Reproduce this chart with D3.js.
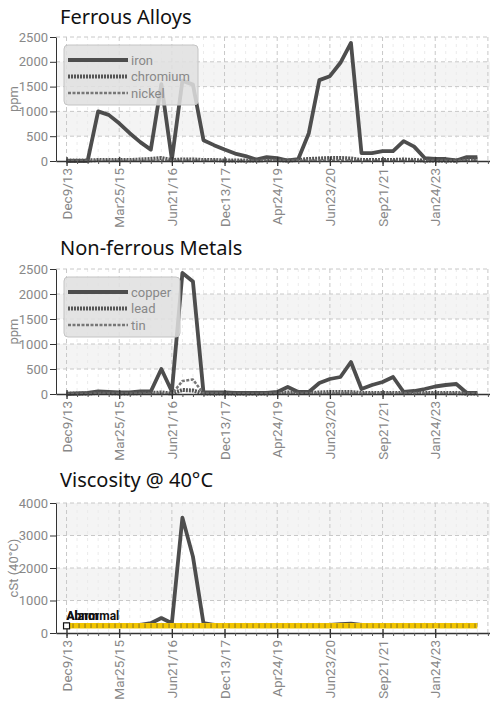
<!DOCTYPE html>
<html>
<head>
<meta charset="utf-8">
<script src="https://cdn.jsdelivr.net/npm/d3@7"></script>
<style>
body { margin: 0; background: #fff; }
svg text { font-family: "Roboto", sans-serif; }
.title { font-family: "Noto Sans", "DejaVu Sans", sans-serif !important; font-size: 20px; fill: #111; }
</style>
</head>
<body>
<svg width="490" height="702"></svg>
<script>
// x tick labels, one every 5 samples
const xLabels = ["Dec9/13", "Mar25/15", "Jun21/16", "Dec13/17", "Apr24/19", "Jun23/20", "Sep21/21", "Jan24/23"];
const labelEvery = 5;

// Ferrous Alloys (ppm), 40 samples
const iron = [0, 0, 0, 1000, 930, 760, 560, 380, 230, 1550,
              30, 1620, 1540, 420, 320, 230, 150, 100, 30, 80,
              60, 10, 40, 560, 1630, 1710, 1980, 2380, 160, 160,
              200, 200, 400, 290, 60, 40, 40, 10, 80, 80];
const chromium = [10, 10, 10, 20, 20, 20, 20, 30, 40, 60,
                  20, 30, 30, 20, 20, 10, 10, 10, 10, 20,
                  20, 10, 20, 40, 50, 60, 60, 50, 20, 20,
                  20, 20, 30, 20, 10, 10, 10, 10, 40, 40];
const nickel = [0, 0, 0, 5, 5, 5, 5, 5, 5, 10,
                0, 10, 10, 5, 5, 5, 0, 0, 0, 5,
                5, 0, 5, 10, 10, 10, 10, 10, 5, 5,
                5, 5, 5, 5, 0, 0, 0, 0, 10, 10];

// Non-ferrous Metals (ppm)
const copper = [0, 10, 20, 50, 40, 30, 30, 50, 50, 500,
                50, 2420, 2250, 30, 30, 30, 20, 20, 20, 20,
                40, 140, 40, 40, 220, 300, 340, 640, 100, 180,
                240, 340, 40, 60, 100, 150, 180, 200, 20, 20];
const lead = [10, 10, 10, 20, 20, 10, 10, 20, 20, 30,
              10, 80, 70, 10, 10, 10, 10, 10, 10, 10,
              20, 30, 20, 20, 30, 40, 40, 40, 20, 20,
              20, 20, 20, 20, 20, 20, 20, 20, 10, 10];
const tin = [0, 0, 0, 5, 5, 5, 5, 5, 5, 10,
             0, 260, 290, 5, 5, 5, 0, 0, 0, 5,
             5, 10, 5, 10, 10, 10, 20, 20, 10, 10,
             10, 10, 10, 10, 10, 10, 10, 10, 5, 5];

// Viscosity @ 40°C (cSt)
const viscosity = [190, 240, 250, 250, 250, 250, 250, 250, 300, 460,
                   300, 3550, 2350, 300, 250, 250, 250, 250, 250, 250,
                   250, 250, 250, 250, 250, 250, 270, 290, 250, 250,
                   250, 250, 250, 250, 250, 250, 250, 250, 250, 250];
const abnormalLimit = 220;

const svg = d3.select("svg");
const x = d3.scaleLinear().domain([-1, 40.2]).range([56, 490]);
const majorIdx = d3.range(0, 41, labelEvery);

const styles = {
    solid:  {width: 3.8, dash: null, color: "#4d4d4d"},
    dotted: {width: 4, dash: "2,1", color: "#555"},
    dashed: {width: 2.5, dash: "3,1.5", color: "#777"}
};

function drawChart(c) {
    const y = d3.scaleLinear().domain([0, c.yMax]).range([c.y0, c.yTop]);
    const g = svg.append("g");
    const ticks = d3.range(0, c.yMax + 1, c.yStep);

    // alternating bands
    g.selectAll("rect.band")
        .data(ticks.slice(0, -1).filter((d, i) => i % 2 == 1))
        .enter().append("rect")
            .attr("x", x(-1)).attr("width", x(40.2) - x(-1))
            .attr("y", d => y(d + c.yStep)).attr("height", d => y(d) - y(d + c.yStep))
            .style("fill", "#f4f4f4");

    // minor vertical grid
    g.selectAll("line.minor")
        .data(d3.range(0, 41).filter(i => i % labelEvery != 0))
        .enter().append("line")
            .attr("x1", d => x(d)).attr("x2", d => x(d))
            .attr("y1", c.yTop).attr("y2", c.y0)
            .style("stroke", "#ebebeb").style("stroke-dasharray", "3,4");

    // major grid
    g.selectAll("line.vmajor")
        .data(majorIdx)
        .enter().append("line")
            .attr("x1", d => x(d)).attr("x2", d => x(d))
            .attr("y1", c.yTop).attr("y2", c.y0)
            .style("stroke", "#c8c8c8").style("stroke-dasharray", "4,3");
    g.selectAll("line.hmajor")
        .data(ticks.slice(1))
        .enter().append("line")
            .attr("x1", x(-1)).attr("x2", x(40.2))
            .attr("y1", d => y(d)).attr("y2", d => y(d))
            .style("stroke", "#c8c8c8").style("stroke-dasharray", "4,3");

    // title + y label
    svg.append("text").attr("class", "title")
        .attr("x", 60).attr("y", c.titleY).text(c.title);
    svg.append("text")
        .attr("transform", "translate(13," + ((c.yTop + c.y0) / 2) + ")rotate(-90)")
        .attr("dy", "0.35em")
        .style("text-anchor", "middle").style("font-size", "13px").style("fill", "#888")
        .text(c.yLabel);

    // series
    const line = d3.line().x((d, i) => x(i)).y(d => y(d));
    c.series.forEach(s => {
        const st = styles[s.style];
        g.append("path")
            .datum(s.values)
            .attr("d", line)
            .style("fill", "none")
            .style("stroke", st.color)
            .style("stroke-width", st.width)
            .style("stroke-linejoin", "round")
            .style("stroke-dasharray", st.dash);
    });

    if (c.over) c.over(g, y);

    // y axis
    const ya = svg.append("g")
        .attr("transform", "translate(" + x(-1) + ",0)")
        .call(d3.axisLeft(y).tickValues(ticks).tickFormat(d3.format("d"))
            .tickSize(6).tickSizeOuter(0).tickPadding(2));
    ya.select(".domain").style("stroke", "#333");
    ya.selectAll(".tick line").style("stroke", "#333");
    ya.selectAll("text").style("font-size", "13px").style("fill", "#888").style("font-family", null);

    // x axis: minor ticks then labelled ticks
    const xm = svg.append("g")
        .attr("transform", "translate(0," + c.y0 + ")")
        .call(d3.axisBottom(x).tickValues(d3.range(0, 41)).tickSize(3).tickSizeOuter(0).tickFormat(""));
    xm.select(".domain").style("stroke", "#333").style("stroke-width", 1.5);
    xm.selectAll(".tick line").style("stroke", "#555");

    const xa = svg.append("g")
        .attr("transform", "translate(0," + c.y0 + ")")
        .call(d3.axisBottom(x).tickValues(majorIdx.slice(0, xLabels.length))
            .tickFormat(d => xLabels[d / labelEvery]).tickSizeOuter(0).tickSize(5));
    xa.select(".domain").remove();
    xa.selectAll(".tick line").attr("y1", -4).style("stroke", "#333").style("stroke-width", 1.3);
    xa.selectAll("text")
        .attr("transform", "rotate(-90)")
        .attr("x", -7).attr("y", 0).attr("dy", "0.35em")
        .style("text-anchor", "end").style("font-size", "13.5px").style("fill", "#888")
        .style("font-family", null);

    // legend
    if (c.legend) {
        const lg = svg.append("g").attr("transform", "translate(64," + c.legend.y + ")");
        lg.append("rect")
            .attr("width", c.legend.w).attr("height", 60).attr("rx", 4)
            .style("fill", "rgba(224,224,224,0.86)").style("stroke", "#c4c4c4");
        c.series.forEach((s, i) => {
            const st = styles[s.style];
            const yy = 15 + i * 16.5;
            lg.append("line")
                .attr("x1", 4).attr("x2", 64).attr("y1", yy).attr("y2", yy)
                .style("stroke", st.color).style("stroke-width", st.width)
                .style("stroke-dasharray", st.dash);
            lg.append("text")
                .attr("x", 67).attr("y", yy).attr("dy", "0.35em")
                .style("font-size", "13px").style("fill", "#888")
                .text(s.name);
        });
    }
}

drawChart({
    title: "Ferrous Alloys", titleY: 24, yLabel: "ppm",
    yTop: 37, y0: 161, yMax: 2500, yStep: 500,
    series: [
        {name: "iron", values: iron, style: "solid"},
        {name: "chromium", values: chromium, style: "dotted"},
        {name: "nickel", values: nickel, style: "dashed"}
    ],
    legend: {y: 45, w: 134}
});

drawChart({
    title: "Non-ferrous Metals", titleY: 255, yLabel: "ppm",
    yTop: 269, y0: 394, yMax: 2500, yStep: 500,
    series: [
        {name: "copper", values: copper, style: "solid"},
        {name: "lead", values: lead, style: "dotted"},
        {name: "tin", values: tin, style: "dashed"}
    ],
    legend: {y: 277, w: 116}
});

drawChart({
    title: "Viscosity @ 40°C", titleY: 487, yLabel: "cSt (40°C)",
    yTop: 503, y0: 633, yMax: 4000, yStep: 1000,
    series: [
        {name: "viscosity", values: viscosity, style: "solid"}
    ],
    over: function(g, y) {
        const lim = d3.range(0, 40).map(() => abnormalLimit);
        const line = d3.line().x((d, i) => x(i)).y(d => y(d));
        g.append("path").datum(lim).attr("d", line)
            .style("fill", "none").style("stroke", "#f2c500").style("stroke-width", 5.5);
        g.append("path").datum(lim).attr("d", line)
            .style("fill", "none").style("stroke", "#333").style("stroke-width", 4.5)
            .style("stroke-dasharray", "1,5").style("opacity", 0.55);
        g.append("rect")
            .attr("x", x(0) - 3).attr("y", y(abnormalLimit) - 3)
            .attr("width", 6).attr("height", 6)
            .style("fill", "#fff").style("stroke", "#111").style("stroke-width", 1.2);
        // two limit labels drawn at the same spot, as in the source
        ["Abnormal", "Alarm"].forEach(t => {
            g.append("text")
                .attr("x", x(0)).attr("y", y(abnormalLimit) - 6)
                .style("font-size", "12px").style("font-weight", "bold").style("fill", "#111")
                .text(t);
        });
    }
});
</script>
</body>
</html>
